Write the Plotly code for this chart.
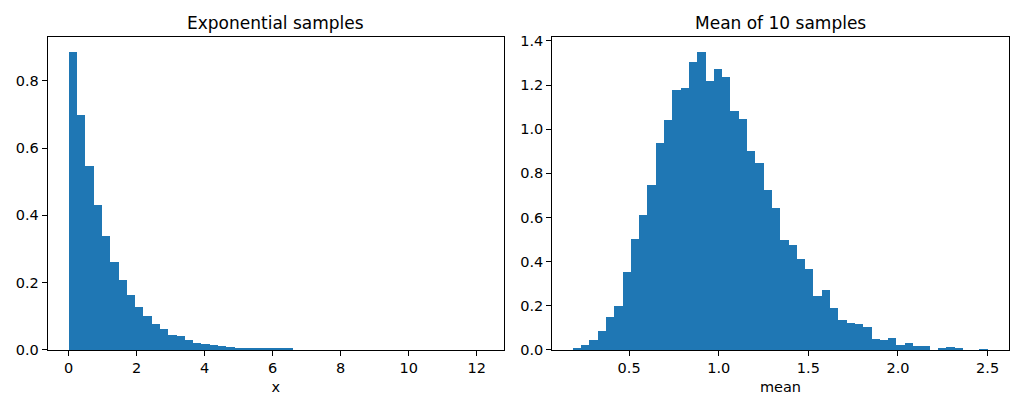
import numpy as np
import plotly.graph_objects as go

# histogram densities (50 bins each)
exp_lo, exp_hi = 0.0, 12.19
exp_density = [
    0.884, 0.698, 0.545, 0.431, 0.337, 0.260, 0.206, 0.161, 0.127, 0.099,
    0.077, 0.061, 0.045, 0.040, 0.028, 0.021, 0.018, 0.014, 0.010, 0.008,
    0.006, 0.005, 0.004, 0.003, 0.003, 0.002, 0.002, 0.0, 0.0, 0.0,
    0.0, 0.0, 0.0, 0.0, 0.0, 0.0, 0.0, 0.0, 0.0, 0.0,
    0.0, 0.0, 0.0, 0.0, 0.0, 0.0, 0.0, 0.0, 0.0, 0.0,
]

mean_lo, mean_hi = 0.187, 2.502
mean_density = [
    0.008, 0.021, 0.045, 0.083, 0.146, 0.196, 0.352, 0.501, 0.612, 0.748,
    0.936, 1.042, 1.175, 1.186, 1.303, 1.349, 1.216, 1.269, 1.236, 1.083,
    1.045, 0.902, 0.846, 0.723, 0.642, 0.495, 0.474, 0.412, 0.366, 0.243,
    0.270, 0.189, 0.134, 0.122, 0.115, 0.103, 0.050, 0.042, 0.053, 0.021,
    0.030, 0.018, 0.018, 0.0, 0.008, 0.014, 0.009, 0.0, 0.0, 0.003,
]

BLUE = "#1f77b4"
FONT = "DejaVu Sans"


def hist_bar(lo, hi, dens, xa, ya):
    edges = np.linspace(lo, hi, len(dens) + 1)
    centers = (edges[:-1] + edges[1:]) / 2
    w = edges[1] - edges[0]
    return go.Bar(x=centers, y=dens, width=w, marker=dict(color=BLUE, line=dict(width=0)),
                  xaxis=xa, yaxis=ya, showlegend=False)


fig = go.Figure()
fig.add_trace(hist_bar(exp_lo, exp_hi, exp_density, "x", "y"))
fig.add_trace(hist_bar(mean_lo, mean_hi, mean_density, "x2", "y2"))

axis_style = dict(showline=True, linecolor="black", linewidth=1, mirror=True,
                  ticks="outside", ticklen=5, tickwidth=1, tickcolor="black",
                  showgrid=False, zeroline=False, automargin=False,
                  tickfont=dict(family=FONT, size=14.5, color="black"))

# page has an 8px body margin, domains compensate for it
xdom1 = [0.0388, 0.4844]
xdom2 = [0.5315, 0.9773]
ydom = [0.1659, 0.9285]
fig.update_layout(
    width=1024, height=410,
    margin=dict(l=0, r=0, t=0, b=0),
    paper_bgcolor="white", plot_bgcolor="white",
    bargap=0,
    font=dict(family=FONT, color="black"),
    xaxis=dict(domain=xdom1, range=[-0.61, 12.80], tickvals=[0, 2, 4, 6, 8, 10, 12],
               anchor="y", title=dict(text="x", font=dict(size=14.5), standoff=6), **axis_style),
    yaxis=dict(domain=ydom, range=[0, 0.929], tickvals=[0, 0.2, 0.4, 0.6, 0.8], tickformat=".1f",
               anchor="x", **axis_style),
    xaxis2=dict(domain=xdom2, range=[0.071, 2.618], tickvals=[0.5, 1.0, 1.5, 2.0, 2.5],
                tickformat=".1f", anchor="y2",
                title=dict(text="mean", font=dict(size=14.5), standoff=6), **axis_style),
    yaxis2=dict(domain=ydom, range=[0, 1.416], tickvals=[0, 0.2, 0.4, 0.6, 0.8, 1.0, 1.2, 1.4],
                tickformat=".1f", anchor="x2", **axis_style),
    annotations=[
        dict(text="Exponential samples", x=sum(xdom1) / 2, y=0.9627, xref="paper", yref="paper",
             xanchor="center", yanchor="middle", showarrow=False, font=dict(size=17, family=FONT)),
        dict(text="Mean of 10 samples", x=sum(xdom2) / 2, y=0.9627, xref="paper", yref="paper",
             xanchor="center", yanchor="middle", showarrow=False, font=dict(size=17, family=FONT)),
    ],
)

fig.write_html("out.html")
